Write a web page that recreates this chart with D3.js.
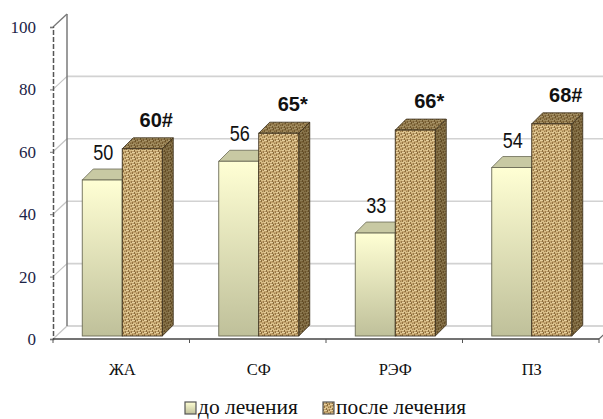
<!DOCTYPE html>
<html>
<head>
<meta charset="utf-8">
<script src="https://cdn.jsdelivr.net/npm/d3@7"></script>
<style>
  html, body { margin: 0; padding: 0; background: #fff; }
  svg { display: block; }
</style>
</head>
<body>
<svg id="chart" width="603" height="419"></svg>
<script>
// Chart data
const categories = ["ЖА", "СФ", "РЭФ", "ПЗ"];
const beforeValues = [50, 56, 33, 54];
const afterValues = [60, 65, 66, 68];
const afterMarks = ["#", "*", "*", "#"];
const seriesNames = ["до лечения", "после лечения"];
const yTicks = [0, 20, 40, 60, 80, 100];

const W = 603, H = 419;
const svg = d3.select("#chart");

// 3D geometry
const wallDX = 14, wallDY = 13;   // depth of the back wall
const barDX = 11, barDY = 11;     // depth of each column
const barOX = 1, barOY = 3;       // columns sit slightly behind the front plane
const barW = 40;

const y = d3.scaleLinear().domain([0, 100]).range([339, 27]);
const x = d3.scaleBand().domain(categories).range([53, 599]);
const sub = d3.scaleBand().domain([0, 1]).range([0, barW * 2]);

const defs = svg.append("defs");

// burlap weave texture: fine light strands over a tan ground with brown gaps
const pat = defs.append("pattern")
  .attr("id", "burlap").attr("patternUnits", "userSpaceOnUse")
  .attr("width", 6).attr("height", 6);
pat.append("rect").attr("width", 6).attr("height", 6).attr("fill", "#c4a46e");
const weave = [
  [0, 0, 2, 1, "#e2ca96"], [3, 0, 3, 1, "#d8bd86"],
  [2, 0, 1, 2, "#8e6f3e"], [5, 1, 1, 2, "#987848"],
  [0, 2, 3, 1, "#e6d09f"], [4, 3, 2, 1, "#dcc38d"],
  [3, 2, 1, 2, "#8a6b3a"], [0, 4, 1, 2, "#937341"],
  [1, 5, 4, 1, "#dbc18b"], [2, 3, 1, 1, "#a88957"],
  [4, 5, 1, 1, "#a08050"], [1, 1, 1, 1, "#b89866"]
];
weave.forEach(([a, b, w, h, c]) =>
  pat.append("rect").attr("x", a).attr("y", b).attr("width", w).attr("height", h).attr("fill", c));

// pale column gradient
const g1 = defs.append("linearGradient").attr("id", "paleFront")
  .attr("x1", 0).attr("y1", 0).attr("x2", 0).attr("y2", 1);
g1.append("stop").attr("offset", "0%").attr("stop-color", "#ffffd4");
g1.append("stop").attr("offset", "100%").attr("stop-color", "#bfc09a");

const gTop = defs.append("linearGradient").attr("id", "topEdge")
  .attr("x1", 0).attr("y1", 0).attr("x2", 1).attr("y2", 0);
gTop.append("stop").attr("offset", "0%").attr("stop-color", "#e2e2e2");
gTop.append("stop").attr("offset", "40%").attr("stop-color", "#9a9a9a");
gTop.append("stop").attr("offset", "100%").attr("stop-color", "#5e5e5e");

const yb = v => y(v) - wallDY;         // back-wall y
const x0 = x.range()[0], x1 = x.range()[1];

// back wall gridlines
const grid = svg.append("g");
yTicks.forEach(v => {
  if (v === 100) return;
  grid.append("line")
    .attr("x1", x0 + wallDX).attr("x2", W)
    .attr("y1", yb(v)).attr("y2", yb(v))
    .attr("stroke", v === 0 ? "#c9c9c9" : "#d2d2d2").attr("stroke-width", 1.6);
  // side wall diagonal
  grid.append("line")
    .attr("x1", x0).attr("y1", y(v)).attr("x2", x0 + wallDX).attr("y2", yb(v))
    .attr("stroke", "#c4c4c4").attr("stroke-width", 1.2);
});
// top edge of the back wall
grid.append("line")
  .attr("x1", x0 + wallDX).attr("x2", W).attr("y1", yb(100)).attr("y2", yb(100))
  .attr("stroke", "url(#topEdge)").attr("stroke-width", 2);
grid.append("line")
  .attr("x1", x0).attr("y1", y(100)).attr("x2", x0 + wallDX).attr("y2", yb(100))
  .attr("stroke", "#777").attr("stroke-width", 1.3);
// back edge of the side wall
grid.append("line")
  .attr("x1", x0 + wallDX).attr("x2", x0 + wallDX).attr("y1", yb(100)).attr("y2", yb(0))
  .attr("stroke", "#7a7a7a").attr("stroke-width", 1.5);
// floor right edge
grid.append("line")
  .attr("x1", x1).attr("y1", y(0)).attr("x2", x1 + wallDX).attr("y2", yb(0))
  .attr("stroke", "#666").attr("stroke-width", 1.2);

// columns
const bars = svg.append("g");
function column(left, v, kind) {
  const base = y(0) - barOY;
  const top = base - (y(0) - y(v));
  const l = left, r = left + barW;
  const front = kind === 0 ? "url(#paleFront)" : "url(#burlap)";
  const stroke = kind === 0 ? "#6b6b55" : "#3a2e1c";
  const sideD = `M${r},${base}L${r + barDX},${base - barDY}L${r + barDX},${top - barDY}L${r},${top}Z`;
  const topD = `M${l},${top}L${l + barDX},${top - barDY}L${r + barDX},${top - barDY}L${r},${top}Z`;
  // side face
  bars.append("path").attr("d", sideD)
    .attr("fill", kind === 0 ? "#a9aa86" : "url(#burlap)");
  if (kind === 1) bars.append("path").attr("d", sideD).attr("fill", "#33280c").attr("fill-opacity", 0.5);
  bars.append("path").attr("d", sideD).attr("fill", "none").attr("stroke", stroke).attr("stroke-width", 0.8);
  // top face
  bars.append("path").attr("d", topD)
    .attr("fill", kind === 0 ? "#c8c9a3" : "url(#burlap)");
  if (kind === 1) bars.append("path").attr("d", topD).attr("fill", "#33280c").attr("fill-opacity", 0.35);
  bars.append("path").attr("d", topD).attr("fill", "none").attr("stroke", stroke).attr("stroke-width", 0.8);
  // front face
  bars.append("rect")
    .attr("x", l).attr("y", top).attr("width", barW).attr("height", base - top)
    .attr("fill", front).attr("stroke", stroke).attr("stroke-width", 0.9);
  return { cx: (l + r) / 2, top };
}

const labels = svg.append("g");
categories.forEach((c, i) => {
  const gl = x(c) + x.bandwidth() / 2 - barW + barOX;
  const a = column(gl + sub(0), beforeValues[i], 0);
  const b = column(gl + sub(1), afterValues[i], 1);

  const t1 = labels.append("text")
    .attr("x", a.cx + 1).attr("y", a.top - 20)
    .attr("text-anchor", "middle")
    .attr("font-family", "Liberation Sans, Arial, sans-serif")
    .attr("font-size", 22).attr("fill", "#111")
    .text(beforeValues[i]);
  t1.attr("textLength", t1.node().getComputedTextLength() * 0.82)
    .attr("lengthAdjust", "spacingAndGlyphs");

  labels.append("text")
    .attr("x", b.cx + 14).attr("y", b.top - 22)
    .attr("text-anchor", "middle")
    .attr("font-family", "Liberation Sans, Arial, sans-serif")
    .attr("font-size", 20).attr("font-weight", "bold").attr("fill", "#111")
    .text(afterValues[i] + afterMarks[i]);
});

// front edge of the side wall (dashed value axis)
const yAxis = d3.axisLeft(y).tickValues(yTicks).tickSize(3).tickPadding(14);
const ya = svg.append("g").attr("transform", `translate(${x0},0)`).call(yAxis);
ya.select(".domain").attr("stroke", "#555").attr("stroke-width", 1.5)
  .attr("stroke-dasharray", "5,2");
ya.selectAll(".tick line").attr("stroke", "#777");
ya.selectAll(".tick text")
  .attr("font-family", "Liberation Serif, Times New Roman, serif")
  .attr("font-size", 17).attr("fill", "#1c2447");

// floor front edge with category axis
const xAxis = d3.axisBottom(x).tickSize(0).tickPadding(24);
const xa = svg.append("g").attr("transform", `translate(${barOX},${y(0)})`).call(xAxis);
xa.select(".domain").remove();
xa.selectAll(".tick text")
  .attr("font-family", "Liberation Serif, Times New Roman, serif")
  .attr("font-size", 16.5).attr("fill", "#111");
svg.append("line")
  .attr("x1", x0).attr("x2", x1).attr("y1", y(0)).attr("y2", y(0))
  .attr("stroke", "#444").attr("stroke-width", 1.6);
d3.range(categories.length + 1).forEach(k => {
  const px = x0 + k * x.step();
  svg.append("line")
    .attr("x1", px).attr("x2", px).attr("y1", y(0)).attr("y2", y(0) + 4)
    .attr("stroke", "#555").attr("stroke-width", 1);
});

// legend
const legend = svg.append("g");
const legendItems = [
  { name: seriesNames[0], fill: "url(#paleFront)", sx: 185, width: 100 },
  { name: seriesNames[1], fill: "url(#burlap)", sx: 323, width: 130 }
];
legendItems.forEach(d => {
  legend.append("rect")
    .attr("x", d.sx).attr("y", 402).attr("width", 11).attr("height", 12)
    .attr("fill", d.fill).attr("stroke", "#555").attr("stroke-width", 1.2);
  legend.append("text")
    .attr("x", d.sx + 13).attr("y", 414)
    .attr("font-family", "Liberation Serif, Times New Roman, serif")
    .attr("font-size", 22).attr("fill", "#111")
    .attr("textLength", d.width).attr("lengthAdjust", "spacingAndGlyphs")
    .text(d.name);
});
</script>
</body>
</html>
